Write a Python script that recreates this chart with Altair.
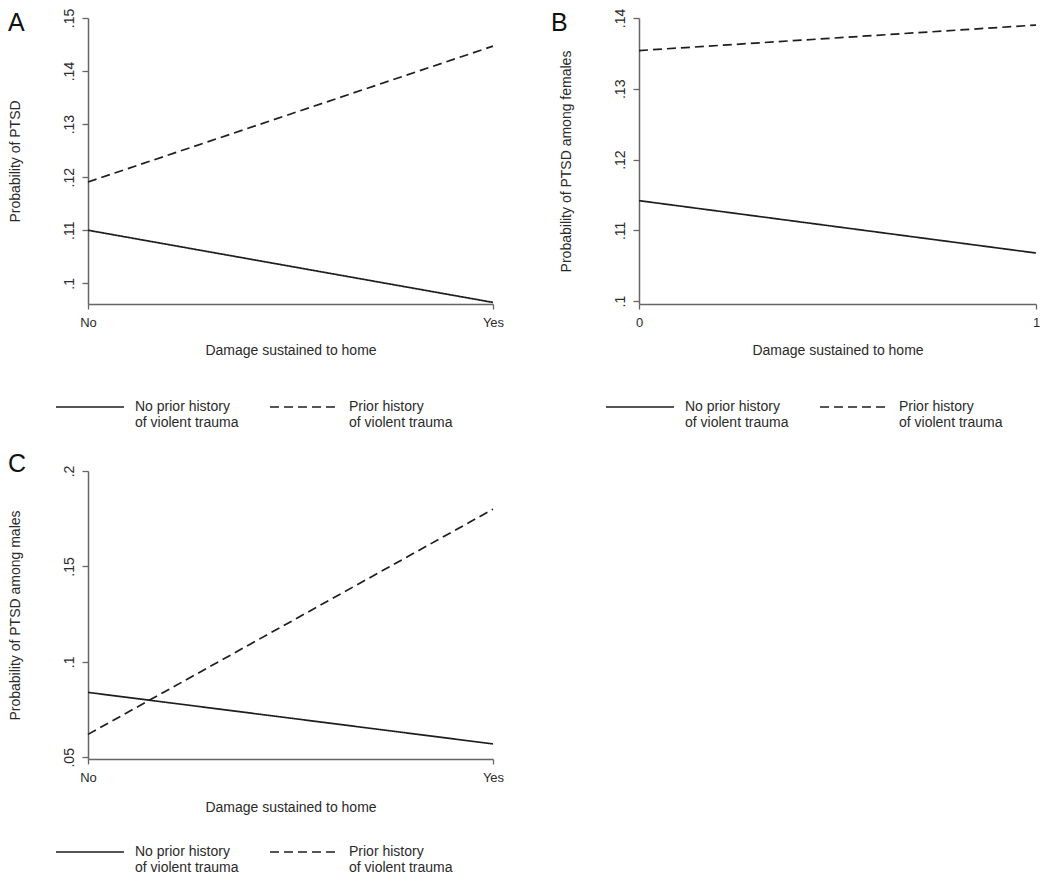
import altair as alt
import pandas as pd

FONT = "Liberation Sans"
LINE = "#1e1e1e"
AXIS = "#666666"
TEXT = "#2a2a2a"

SERIES = ["No prior history of violent trauma", "Prior history of violent trauma"]
DAMAGE = [0, 1]
NOYES = ["No", "Yes"]
XTITLE = "Damage sustained to home"

A_NO = [0.1100, 0.0964]
A_PRIOR = [0.1191, 0.1447]
B_NO = [0.1142, 0.1068]
B_PRIOR = [0.1354, 0.1390]
C_NO = [0.084, 0.057]
C_PRIOR = [0.062, 0.180]

A_TICKS = [0.10, 0.11, 0.12, 0.13, 0.14, 0.15]
B_TICKS = [0.10, 0.11, 0.12, 0.13, 0.14]
C_TICKS = [0.05, 0.10, 0.15, 0.20]
A_DOMAIN = [0.0961, 0.15]
B_DOMAIN = [0.0996, 0.14]
C_DOMAIN = [0.0491, 0.20]

YTITLES = ["Probability of PTSD", "Probability of PTSD among females",
           "Probability of PTSD among males"]
LETTERS = ["A", "B", "C"]

NOYES_EXPR = "datum.value == 0 ? '%s' : '%s'" % (NOYES[0], NOYES[1])
NUM_EXPR = "format(datum.value, 'd')"
Y_EXPR = "replace(format(datum.value, '.2~f'), '0.', '.')"
LEG_EXPR = ("[slice(datum.label, 0, indexof(datum.label, ' of ')), "
            "slice(datum.label, indexof(datum.label, ' of ') + 1)]")


def panel(no, prior, ydomain, yticks, ytitle, xexpr, letter, width, height,
          legend_x, legend_y, letter_x, letter_y, xtitle_pad):
    df = pd.DataFrame({
        "damage": DAMAGE + DAMAGE,
        "prob": list(no) + list(prior),
        "series": [SERIES[0]] * len(no) + [SERIES[1]] * len(prior),
    })
    lines = alt.Chart(df).mark_line(color=LINE, strokeWidth=1.7).encode(
        x=alt.X("damage:Q",
                scale=alt.Scale(domain=[0, 1], nice=False, zero=False),
                axis=alt.Axis(values=DAMAGE, labelExpr=xexpr, title=XTITLE,
                              labelFlush=False, tickSize=5, labelPadding=7,
                              labelFontSize=13, titlePadding=xtitle_pad)),
        y=alt.Y("prob:Q",
                scale=alt.Scale(domain=ydomain, nice=False, zero=False),
                axis=alt.Axis(values=yticks, labelExpr=Y_EXPR, title=ytitle,
                              labelAngle=270, labelAlign="center",
                              labelBaseline="bottom", tickSize=6,
                              labelFontSize=14, labelPadding=6,
                              titlePadding=40)),
        strokeDash=alt.StrokeDash(
            "series:N",
            scale=alt.Scale(domain=SERIES, range=[[1, 0], [9, 5]]),
            legend=alt.Legend(title=None, orient="none", legendX=legend_x,
                              legendY=legend_y, direction="horizontal",
                              columns=2, symbolType="stroke", symbolSize=4624,
                              symbolStrokeWidth=1.7, symbolStrokeColor=LINE,
                              labelOffset=10, columnPadding=27,
                              labelFontSize=14, labelExpr=LEG_EXPR,
                              labelLimit=300, padding=0)),
    )
    lab = alt.Chart(pd.DataFrame({"letter": [letter]})).mark_text(
        align="left", baseline="top", fontSize=25, font=FONT, color="#111111"
    ).encode(x=alt.value(letter_x), y=alt.value(letter_y), text="letter:N")
    return alt.layer(lines, lab).properties(width=width, height=height)


pA = panel(A_NO, A_PRIOR, A_DOMAIN, A_TICKS, YTITLES[0], NOYES_EXPR, LETTERS[0],
           405, 286, -33, 354, -80, -7, 14)
pB = panel(B_NO, B_PRIOR, B_DOMAIN, B_TICKS, YTITLES[1], NUM_EXPR, LETTERS[1],
           397, 286, -34, 354, -88, -7, 14)
pC = panel(C_NO, C_PRIOR, C_DOMAIN, C_TICKS, YTITLES[2], NOYES_EXPR, LETTERS[2],
           405, 288, -33, 346, -80, -19, 16)

chart = alt.concat(
    pA, pB, pC, columns=2, spacing={"row": 167, "column": 146}, bounds="flush"
).resolve_scale(
    x="independent", y="independent", strokeDash="independent"
).resolve_legend(
    strokeDash="independent"
).properties(
    padding=0
).configure_view(
    stroke=None
).configure_axis(
    grid=False, domainColor=AXIS, tickColor=AXIS, domainWidth=1.5, tickWidth=1.3,
    labelColor=TEXT, titleColor=TEXT, labelFont=FONT, titleFont=FONT,
    titleFontSize=14, titleFontWeight="normal"
).configure_legend(
    labelFont=FONT, labelColor=TEXT
)

chart.save("out.html", embed_options={"renderer": "svg", "actions": False})
